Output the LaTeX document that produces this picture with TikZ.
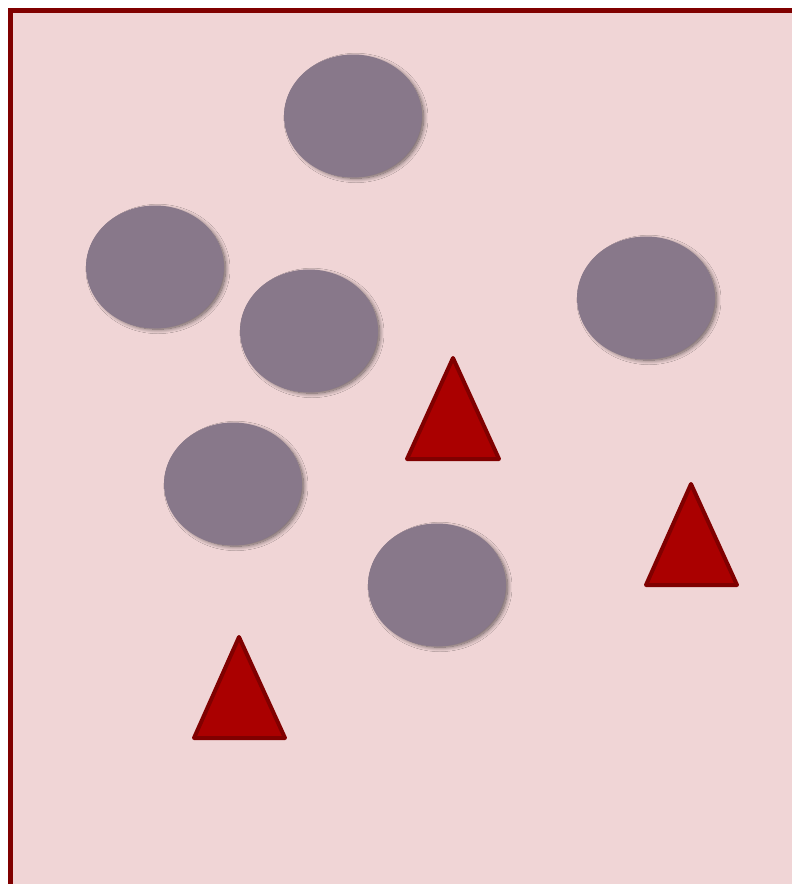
\documentclass[tikz,border=0pt]{standalone}
\usetikzlibrary{shapes.geometric,shadows.blur}
\definecolor{bgpink}{HTML}{F0D5D6}
\definecolor{frame}{HTML}{800000}
\definecolor{blobc}{HTML}{88788A}
\definecolor{trifill}{HTML}{AA0000}
\tikzset{
  blob/.style={ellipse, fill=blobc, inner sep=0pt, minimum width=138pt, minimum height=123pt,
    blur shadow={shadow xshift=3pt, shadow yshift=-2pt, shadow scale=0.98, shadow blur radius=4.5pt, shadow blur steps=12, shadow opacity=60}},
  tri/.style={fill=trifill, draw=frame, line width=4pt, line join=round}
}
\begin{document}
\begin{tikzpicture}[x=1pt,y=-1pt]
\useasboundingbox (0,0) rectangle (792,884);
\clip (0,0) rectangle (792,884);
\fill[white] (0,0) rectangle (792,884);
\draw[fill=bgpink, draw=frame, line width=5.5pt] (10.5,10.5) rectangle (820,920);
\node[blob] (e1) at (353,116) {};
\node[blob] (e2) at (155,267) {};
\node[blob] (e3) at (309,331) {};
\node[blob] (e4) at (646,298) {};
\node[blob] (e5) at (233,484) {};
\node[blob] (e6) at (437,585) {};
\draw[tri] (453,358) -- (499,459) -- (407,459) -- cycle;
\draw[tri] (691,484) -- (737,585) -- (646,585) -- cycle;
\draw[tri] (239,637) -- (285,738) -- (194,738) -- cycle;
\end{tikzpicture}
\end{document}
